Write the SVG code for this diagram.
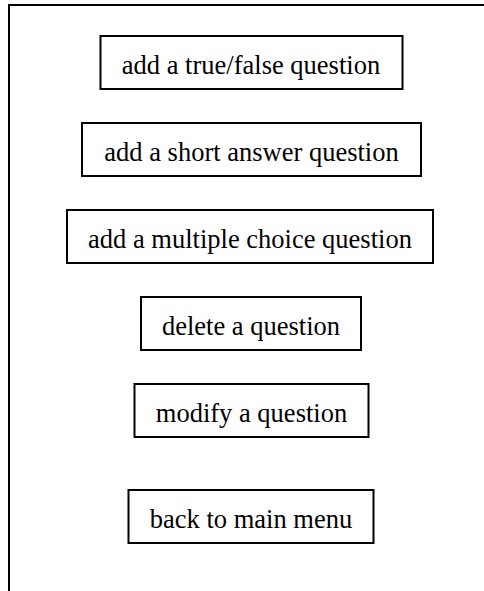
<svg xmlns="http://www.w3.org/2000/svg" width="484" height="591" viewBox="0 0 484 591">
<style>
.box{fill:#fff;stroke:#000;stroke-width:2}
.frame{fill:none;stroke:#000;stroke-width:2}
.lbl{font-family:"Liberation Serif","Times New Roman",serif;font-size:26.5px;fill:#000;text-anchor:middle}
</style>
<rect width="484" height="591" fill="#fff"/>
<g id="frame">
<polyline class="frame" points="9,591 9,5 484,5"/>
</g>
<g id="node-truefalse">
<rect class="box" x="100.5" y="36" width="302" height="53"/>
<text class="lbl" x="251" y="73.5">add a true/false question</text>
</g>
<g id="node-shortanswer">
<rect class="box" x="82" y="123" width="339" height="53"/>
<text class="lbl" x="251.5" y="160.5">add a short answer question</text>
</g>
<g id="node-multiplechoice">
<rect class="box" x="67" y="210" width="366" height="53"/>
<text class="lbl" x="250" y="247.5">add a multiple choice question</text>
</g>
<g id="node-delete">
<rect class="box" x="141" y="297" width="220" height="53"/>
<text class="lbl" x="251" y="334.5">delete a question</text>
</g>
<g id="node-modify">
<rect class="box" x="134.5" y="384" width="234" height="53"/>
<text class="lbl" x="251.5" y="421.5">modify a question</text>
</g>
<g id="node-back">
<rect class="box" x="128.5" y="490" width="245" height="53"/>
<text class="lbl" x="251" y="527.5">back to main menu</text>
</g>
</svg>
